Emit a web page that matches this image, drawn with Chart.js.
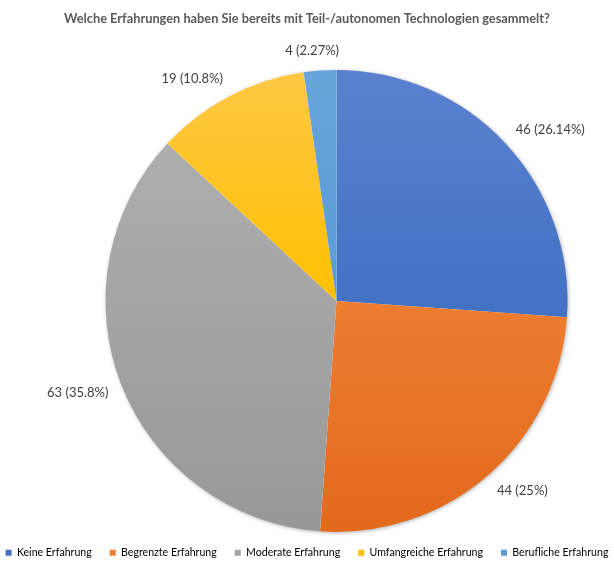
<!DOCTYPE html>
<html lang="de">
<head>
<meta charset="utf-8">
<title>Erfahrungen mit Teil-/autonomen Technologien</title>
<script src="https://cdn.jsdelivr.net/npm/chart.js@4.4.1/dist/chart.umd.min.js"></script>
<style>
  html, body { margin: 0; padding: 0; background: #ffffff; }
  #wrap { width: 614px; height: 561px; }
</style>
</head>
<body>
<div id="wrap"><canvas id="chart" width="614" height="561"></canvas></div>
<script>
// Survey answers
const categories = [
  'Keine Erfahrung',
  'Begrenzte Erfahrung',
  'Moderate Erfahrung',
  'Umfangreiche Erfahrung',
  'Berufliche Erfahrung'
];
const counts = [46, 44, 63, 19, 4];
const chartTitle = 'Welche Erfahrungen haben Sie bereits mit Teil-/autonomen Technologien gesammelt?';

// Slice colours: base tone plus lighter top / darker bottom for the vertical shading
const baseColors   = ['#4472C4', '#ED7D31', '#A5A5A5', '#FFC000', '#5B9BD5'];
const topColors    = ['#5a81cf', '#f59a60', '#b2b2b2', '#ffc844', '#68a4dc'];
const bottomColors = ['#345fb8', '#e3691c', '#989898', '#ecb000', '#4d8bcb'];

const total = counts.reduce((a, b) => a + b, 0);
const pctText = v => String(parseFloat((v / total * 100).toFixed(2)));

const FONT = 'Lato, "Liberation Sans", sans-serif';

// Vertical gradient spanning the pie from top to bottom
function sliceFill(context) {
  const i = context.dataIndex;
  const chart = context.chart;
  const area = chart.chartArea;
  if (!area || i === undefined) return baseColors[i] || '#999';
  const g = chart.ctx.createLinearGradient(0, area.top, 0, area.bottom);
  g.addColorStop(0, topColors[i]);
  g.addColorStop(0.5, baseColors[i]);
  g.addColorStop(1, bottomColors[i]);
  return g;
}

// Moves the plot area to the right so the pie sits off-centre while title and legend stay centred
const plotShift = {
  id: 'plotShift',
  afterLayout(chart) {
    const a = chart.chartArea;
    a.left += 59;
    a.width = a.right - a.left;
  }
};

// Soft shadow under the whole pie
const pieShadow = {
  id: 'pieShadow',
  beforeDatasetsDraw(chart) {
    const arc = chart.getDatasetMeta(0).data[0];
    if (!arc) return;
    const { x, y, outerRadius } = arc.getProps(['x', 'y', 'outerRadius'], true);
    const ctx = chart.ctx;
    ctx.save();
    ctx.shadowColor = 'rgba(0,0,0,0.35)';
    ctx.shadowBlur = 4;
    ctx.shadowOffsetX = 1;
    ctx.shadowOffsetY = 1;
    ctx.fillStyle = '#ffffff';
    ctx.beginPath();
    ctx.arc(x, y, outerRadius - 0.5, 0, Math.PI * 2);
    ctx.fill();
    ctx.restore();
  }
};

// "count (percent%)" labels outside each slice: anchored a little beyond the rim,
// growing outward (left-aligned on the right half, right-aligned on the left half)
const outsideLabels = {
  id: 'outsideLabels',
  afterDatasetsDraw(chart) {
    const ctx = chart.ctx;
    const meta = chart.getDatasetMeta(0);
    ctx.save();
    ctx.font = '13px ' + FONT;
    ctx.fillStyle = '#404040';
    ctx.textAlign = 'center';
    ctx.textBaseline = 'middle';
    meta.data.forEach((arc, i) => {
      const p = arc.getProps(['x', 'y', 'startAngle', 'endAngle', 'outerRadius'], true);
      const mid = (p.startAngle + p.endAngle) / 2;
      const dx = Math.cos(mid), dy = Math.sin(mid);
      const text = counts[i] + ' (' + pctText(counts[i]) + '%)';
      const hw = ctx.measureText(text).width / 2;
      const hh = 6;
      const r = p.outerRadius + 14;
      const ax = p.x + dx * r;
      const ay = p.y + dy * r;
      const side = Math.max(-1, Math.min(1, dx * 3.6));
      ctx.fillText(text, ax + hw * side, ay + hh * dy);
    });
    ctx.restore();
  }
};

new Chart(document.getElementById('chart'), {
  type: 'pie',
  data: {
    labels: categories,
    datasets: [{
      data: counts,
      backgroundColor: sliceFill,
      borderWidth: 0,
      hoverOffset: 0,
      clip: false
    }]
  },
  plugins: [plotShift, pieShadow, outsideLabels],
  options: {
    responsive: false,
    animation: false,
    radius: 231,
    layout: { padding: { top: 0, left: -30, right: -30, bottom: -7 } },
    plugins: {
      tooltip: { enabled: false },
      title: {
        display: true,
        text: chartTitle,
        color: '#595959',
        font: { family: FONT, size: 12.8, weight: 'bold' },
        padding: { top: 11, bottom: 46 }
      },
      legend: {
        display: true,
        position: 'bottom',
        labels: {
          boxWidth: 6,
          boxHeight: 6,
          padding: 18,
          color: '#595959',
          font: { family: FONT, size: 10.6 },
          generateLabels(chart) {
            return categories.map((name, i) => ({
              text: name,
              fillStyle: baseColors[i],
              strokeStyle: baseColors[i],
              lineWidth: 0,
              hidden: false,
              index: i
            }));
          }
        }
      }
    }
  }
});
</script>
</body>
</html>
